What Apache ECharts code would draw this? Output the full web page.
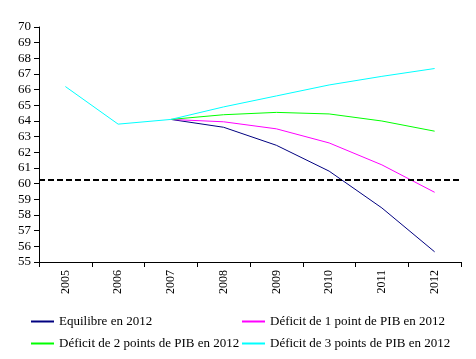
<!DOCTYPE html>
<html><head><meta charset="utf-8">
<script src="https://cdn.jsdelivr.net/npm/echarts@6/dist/echarts.min.js"></script>
<style>html,body{margin:0;padding:0;background:#fff}#c{width:476px;height:359px}</style>
</head><body><div id="c"></div>
<script>
const years = ['2005','2006','2007','2008','2009','2010','2011','2012'];
const equilibre = [null, null, 64.1, 63.6, 62.45, 60.8, 58.45, 55.65];
const deficit1 = [null, null, 64.1, 63.95, 63.5, 62.6, 61.2, 59.45];
const deficit2 = [null, null, 64.1, 64.4, 64.55, 64.45, 64.0, 63.35];
const deficit3 = [66.2, 63.8, 64.1, 64.9, 65.6, 66.3, 66.85, 67.35];
const seuil = 60.25;
const names = ['Equilibre en 2012','Déficit de 1 point de PIB en 2012','Déficit de 2 points de PIB en 2012','Déficit de 3 points de PIB en 2012'];
const colors = ['#000080','#FF00FF','#00FF00','#00FFFF'];
const font = 'Liberation Serif';
const chart = echarts.init(document.getElementById('c'));
function ser(i, data){
  return {name:names[i], type:'line', data:data, symbol:'none', connectNulls:false,
    lineStyle:{color:colors[i], width:1}, itemStyle:{color:colors[i]}, animation:false};
}
const series = [ser(0,equilibre), ser(1,deficit1), ser(2,deficit2), ser(3,deficit3)];
series[0].markLine = {silent:true, symbol:['none','none'], label:{show:false},
  lineStyle:{color:'#000', type:[6,3], width:2}, data:[{yAxis:seuil}], animation:false};
const legendCommon = {orient:'vertical', itemWidth:23, itemHeight:2, itemGap:9, icon:'rect',
  textStyle:{fontFamily:font, fontSize:13, color:'#000'}, padding:0};
chart.setOption({
  animation:false,
  grid:{left:39, right:15, top:27, bottom:97},
  xAxis:{type:'category', data:years, boundaryGap:true,
    axisLine:{lineStyle:{color:'#000', width:1}},
    axisTick:{show:true, length:5, lineStyle:{color:'#000'}},
    axisLabel:{rotate:90, fontFamily:font, fontSize:12, color:'#000', margin:8}},
  yAxis:{type:'value', min:55, max:70, interval:1,
    axisLine:{show:true, lineStyle:{color:'#000', width:1}},
    axisTick:{show:true, length:5, lineStyle:{color:'#000'}},
    splitLine:{show:false},
    axisLabel:{fontFamily:font, fontSize:13, color:'#000', margin:8}},
  legend:[
    Object.assign({left:31, top:315, data:[names[0], names[2]]}, legendCommon),
    Object.assign({left:242, top:315, data:[names[1], names[3]]}, legendCommon)
  ],
  series:series
});
</script></body></html>
